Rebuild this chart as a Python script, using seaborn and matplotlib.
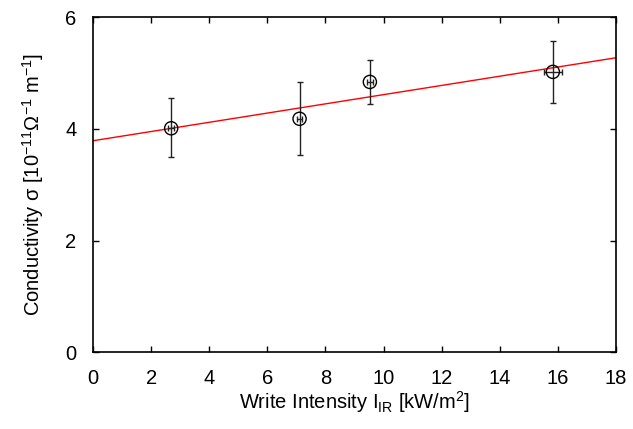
import matplotlib
matplotlib.use('Agg')
import matplotlib.pyplot as plt
import pandas as pd
import seaborn as sns

# Data
intensity = [2.69, 7.11, 9.53, 15.83]
intensity_err = [0.1, 0.1, 0.1, 0.31]
conductivity = [4.01, 4.18, 4.84, 5.02]
cond_err_low = [0.52, 0.65, 0.40, 0.55]
cond_err_high = [0.54, 0.65, 0.40, 0.56]

df = pd.DataFrame({'intensity': intensity, 'conductivity': conductivity})

sns.set_style('ticks')
plt.rcParams['font.family'] = ['Liberation Sans', 'DejaVu Sans']
plt.rcParams['mathtext.default'] = 'regular'
plt.rcParams['xtick.direction'] = 'in'
plt.rcParams['ytick.direction'] = 'in'
plt.rcParams['text.color'] = 'black'
plt.rcParams['axes.labelcolor'] = 'black'
plt.rcParams['xtick.color'] = 'black'
plt.rcParams['ytick.color'] = 'black'
plt.rcParams['axes.edgecolor'] = 'black'

fig = plt.figure(figsize=(6.33, 4.29), dpi=100)
ax = fig.add_axes([0.147, 0.179, 0.826, 0.781])
ax.set_xlim(0, 18)
ax.set_ylim(0, 6)

# Linear fit across the whole axis range
sns.regplot(data=df, x='intensity', y='conductivity', ax=ax, scatter=False,
            ci=None, truncate=False, color='red', line_kws={'lw': 1.0})

ax.errorbar(intensity, conductivity, yerr=[cond_err_low, cond_err_high],
            xerr=intensity_err, fmt='none', ecolor='#222222', elinewidth=1.0,
            capsize=2.5, capthick=1.0)
sns.scatterplot(data=df, x='intensity', y='conductivity', ax=ax, s=90,
                marker='o', facecolor='none', edgecolor='black', linewidth=1.0,
                zorder=5)

ax.set_xlim(0, 18)
ax.set_ylim(0, 6)
ax.set_xticks(range(0, 19, 2))
ax.set_yticks([0, 2, 4, 6])
ax.tick_params(top=True, right=True, length=4, width=1, labelsize=14.5)
ax.tick_params(axis='x', pad=12)
ax.tick_params(axis='y', pad=12)
for s in ax.spines.values():
    s.set_linewidth(1.2)

ax.set_xlabel('Write Intensity I$_{IR}$ [kW/m$^2$]', fontsize=14.5, labelpad=1)
ax.set_ylabel('Conductivity σ [10$^{-11}$Ω$^{-1}$ m$^{-1}$]', fontsize=14.5,
              labelpad=14)

fig.savefig('out.png', dpi=100)
